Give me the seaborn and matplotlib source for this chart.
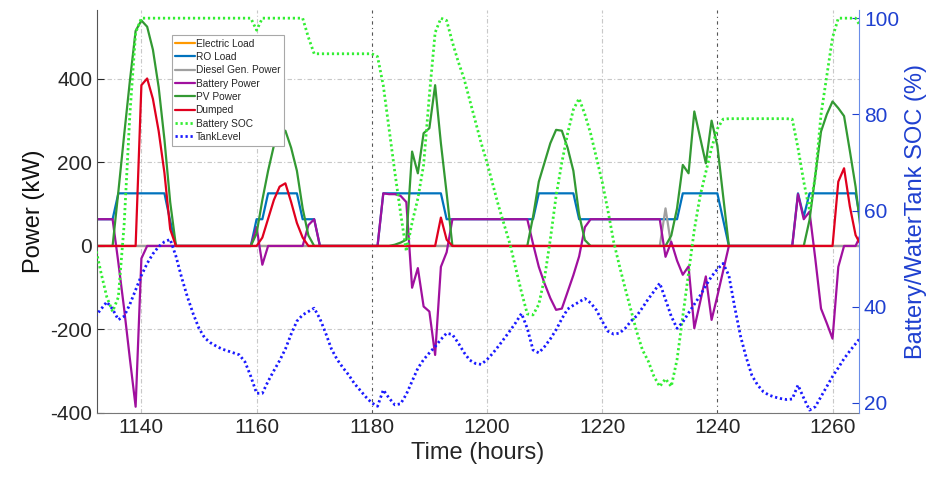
import numpy as np
import pandas as pd
import seaborn as sns
import matplotlib.pyplot as plt

sns.set_style('white')
plt.rcParams['font.family'] = ['Liberation Sans', 'DejaVu Sans']
plt.rcParams['axes.unicode_minus'] = False

# ---- data ----
hours = np.arange(1132, 1266)

elec_t = [1132, 1265]
elec_kw = [0, 0]

ro_t = [1132, 1135, 1136, 1144, 1145, 1146, 1159, 1160, 1161, 1162, 1167, 1168, 1170, 1171,
        1181, 1182, 1192, 1193, 1208, 1209, 1215, 1216, 1233, 1234, 1240, 1241, 1242,
        1253, 1254, 1255, 1256, 1264, 1265]
ro_kw = [64, 64, 126, 126, 60, 0, 0, 64, 64, 126, 126, 64, 64, 0,
         0, 126, 126, 64, 64, 126, 126, 64, 64, 126, 126, 63, 0,
         0, 126, 70, 126, 126, 50]

diesel_t = [1132, 1230, 1231, 1232, 1265]
diesel_kw = [0, 0, 90, 0, 0]

batt_t = [1132, 1135, 1136, 1137, 1138, 1139, 1140, 1141, 1159, 1160, 1161, 1162, 1168, 1169, 1170, 1171,
          1181, 1182, 1183, 1184, 1185, 1186, 1187, 1188, 1189, 1190, 1191, 1192, 1193, 1194,
          1207, 1208, 1209, 1210, 1211, 1212, 1213, 1214, 1215, 1216, 1217, 1218,
          1230, 1231, 1232, 1233, 1234, 1235, 1236, 1237, 1238, 1239, 1240, 1241, 1242,
          1253, 1254, 1255, 1256, 1257, 1258, 1259, 1260, 1261, 1262, 1264, 1265]
batt_kw = [64, 64, -40, -150, -270, -385, -30, 0, 0, 45, -45, 0, 0, 50, 64, 0,
           0, 126, 124, 124, 120, 105, -100, -53, -145, -157, -261, -50, -15, 64,
           64, 5, -50, -90, -125, -153, -150, -110, -70, -25, 45, 64,
           64, -26, 10, -35, -69, -49, -197, -135, -73, -177, -120, -60, 0,
           0, 124, 64, 82, -30, -150, -185, -222, -50, 0, 0, 30]

pv_t = [1132, 1135, 1136, 1137, 1138, 1139, 1140, 1141, 1142, 1143, 1144, 1145, 1146,
        1159, 1160, 1161, 1162, 1163, 1164, 1165, 1166, 1167, 1168, 1169, 1170,
        1183, 1184, 1185, 1186, 1187, 1188, 1189, 1190, 1191, 1192, 1193, 1194,
        1207, 1208, 1209, 1210, 1211, 1212, 1213, 1214, 1215, 1216, 1217, 1218,
        1231, 1232, 1233, 1234, 1235, 1236, 1237, 1238, 1239, 1240, 1241, 1242,
        1255, 1256, 1257, 1258, 1259, 1260, 1261, 1262, 1263, 1264, 1265]
pv_kw = [0, 0, 130, 265, 395, 515, 540, 525, 470, 380, 255, 105, 0,
         0, 30, 110, 180, 240, 270, 276, 235, 180, 90, 25, 0,
         0, 3, 8, 15, 226, 174, 270, 282, 385, 246, 126, 0,
         0, 70, 154, 200, 246, 278, 276, 235, 180, 75, 14, 0,
         0, 25, 90, 194, 174, 322, 260, 198, 300, 240, 120, 0,
         0, 62, 168, 274, 315, 346, 330, 311, 228, 142, 25]

dump_t = [1132, 1139, 1140, 1141, 1142, 1143, 1144, 1145, 1146,
          1160, 1161, 1162, 1163, 1164, 1165, 1166, 1167, 1168, 1169,
          1191, 1192, 1193, 1194, 1260, 1261, 1262, 1263, 1264, 1265]
dump_kw = [0, 0, 385, 401, 352, 275, 175, 40, 0,
           0, 20, 65, 110, 142, 150, 105, 55, 20, 0,
           0, 68, 15, 0, 0, 154, 186, 95, 26, 0]

soc = [52.5, 47.0, 42.0, 39.0, 42.0, 57.0, 80.0, 97.0, 100, 100,
       100, 100, 100, 100, 100, 100, 100, 100, 100, 100,
       100, 100, 100, 100, 100, 100, 100, 100, 97.5, 100,
       100, 100, 100, 100, 100, 100, 100, 96.0, 92.6, 92.6,
       92.6, 92.6, 92.6, 92.6, 92.6, 92.6, 92.6, 92.6, 92.6, 92.0,
       86.0, 77.0, 68.0, 59.5, 51.5, 57.5, 62.5, 69.5, 84.0, 97.0,
       100, 99.5, 95.0, 91.0, 87.5, 83.0, 78.5, 74.0, 70.0, 65.5,
       61.0, 57.0, 53.0, 48.0, 43.0, 38.5, 38.3, 40.5, 46.0, 54.0,
       63.0, 70.0, 76.0, 81.0, 83.3, 80.0, 76.0, 71.0, 66.0, 60.0,
       53.5, 48.5, 43.8, 39.3, 34.8, 31.0, 28.7, 25.5, 23.4, 25.0,
       23.4, 29.0, 38.0, 47.0, 56.0, 63.0, 68.0, 73.0, 77.0, 79.0,
       79.1, 79.1, 79.1, 79.1, 79.1, 79.1, 79.1, 79.1, 79.1, 79.1,
       79.1, 79.0, 73.0, 66.0, 60.0, 67.0, 80.0, 88.0, 96.0, 100,
       100, 100, 100, 98.0]

tank = [38.0, 39.5, 41.0, 39.5, 37.3, 38.0, 40.5, 43.5, 46.5, 49.0,
        51.0, 52.5, 53.5, 54.0, 50.5, 46.0, 42.0, 38.5, 35.5, 33.5,
        32.5, 31.8, 31.2, 30.8, 30.4, 30.0, 28.5, 25.5, 22.0, 22.0,
        24.5, 26.7, 28.8, 31.2, 34.3, 37.0, 38.3, 39.0, 39.7, 37.5,
        34.5, 31.2, 29.0, 27.3, 25.8, 24.0, 22.6, 21.2, 20.0, 19.3,
        22.7, 21.0, 19.6, 19.8, 21.8, 24.5, 27.2, 29.0, 30.4, 31.7,
        33.2, 34.5, 34.2, 32.5, 30.5, 28.9, 28.2, 28.0, 29.0, 30.3,
        31.8, 33.4, 35.0, 36.7, 38.6, 35.5, 31.0, 30.4, 31.7, 33.3,
        35.2, 37.5, 39.5, 40.3, 41.0, 41.7, 40.8, 39.3, 37.0, 34.9,
        34.3, 34.5, 35.5, 37.0, 38.1, 39.8, 41.6, 43.2, 44.9, 41.5,
        38.0, 35.5, 36.8, 38.7, 40.5, 42.3, 44.4, 46.3, 47.8, 49.0,
        46.5, 40.0, 34.0, 29.5, 25.7, 23.7, 22.3, 21.6, 21.2, 20.9,
        20.7, 20.8, 23.7, 21.0, 18.5, 19.2, 21.3, 23.4, 25.5, 27.3,
        29.2, 30.8, 32.3, 33.8]

right_blue = '#1f40d0'

fig = plt.figure(figsize=(9.44, 4.88), dpi=100)
ax = fig.add_axes([0.1028, 0.1537, 0.8072, 0.8258])

lw = 1.6
sns.lineplot(x=elec_t, y=elec_kw, ax=ax, color='#FF9900', linewidth=lw, label='Electric Load')
sns.lineplot(x=ro_t, y=ro_kw, ax=ax, color='#0072BD', linewidth=lw, label='RO Load')
sns.lineplot(x=diesel_t, y=diesel_kw, ax=ax, color='#A0A0A0', linewidth=lw, label='Diesel Gen. Power')
sns.lineplot(x=batt_t, y=batt_kw, ax=ax, color='#A0109E', linewidth=lw, label='Battery Power')
sns.lineplot(x=pv_t, y=pv_kw, ax=ax, color='#339933', linewidth=lw, label='PV Power')
sns.lineplot(x=dump_t, y=dump_kw, ax=ax, color='#E0001E', linewidth=lw, label='Dumped')

ax2 = ax.twinx()
dots = (0, (0.8, 1.0))
sns.lineplot(x=hours, y=soc, ax=ax2, color='#33EE33', linewidth=2.0,
             linestyle=dots, label='Battery SOC')
sns.lineplot(x=hours, y=tank, ax=ax2, color='#1A1AFF', linewidth=2.0,
             linestyle=dots, label='TankLevel')

ax.set_xlim(1132.3, 1264.6)
ax.set_ylim(-400, 565)
ax2.set_ylim(17.9, 101.7)
ax.set_xticks(range(1140, 1261, 20))
ax.set_yticks(range(-400, 401, 200))
ax2.set_yticks(range(20, 101, 20))

ax.grid(True, linestyle=(0, (4, 2, 1, 2)), color='#c8c8c8', linewidth=0.8)
for gl, xv in zip(ax.get_xgridlines(), ax.get_xticks()):
    if xv in (1180, 1240):
        gl.set_color('#555555')
        gl.set_linestyle((0, (3, 3, 1, 3)))

ax.set_xlabel('Time (hours)', fontsize=17, color='#262626')
ax.set_ylabel('Power (kW)', fontsize=17, color='#111111')
ax2.set_ylabel('Battery/WaterTank SOC (%)', fontsize=17, color=right_blue)

ax.tick_params(axis='both', direction='in', length=5, labelsize=15, colors='#262626')
ax2.tick_params(axis='y', direction='in', length=5, labelsize=15, colors=right_blue)

ax.spines['top'].set_visible(False)
ax2.spines['top'].set_visible(False)
ax.spines['left'].set_color('#555555')
ax.spines['bottom'].set_color('#777777')
ax.spines['right'].set_visible(False)
ax2.spines['left'].set_visible(False)
ax2.spines['bottom'].set_visible(False)
ax2.spines['right'].set_color('#6a8de8')

h1, l1 = ax.get_legend_handles_labels()
h2, l2 = ax2.get_legend_handles_labels()
ax.get_legend().remove()
ax2.get_legend().remove()
leg = ax2.legend(h1 + h2, l1 + l2, loc='upper left', bbox_to_anchor=(0.098, 0.938),
                 borderaxespad=0, fontsize=7.3, handlelength=1.9, handletextpad=0.1,
                 labelspacing=0.33, borderpad=0.35, fancybox=False, framealpha=1,
                 edgecolor='#a8a8a8')
leg.get_frame().set_linewidth(0.8)

fig.savefig('out.png', dpi=100)
